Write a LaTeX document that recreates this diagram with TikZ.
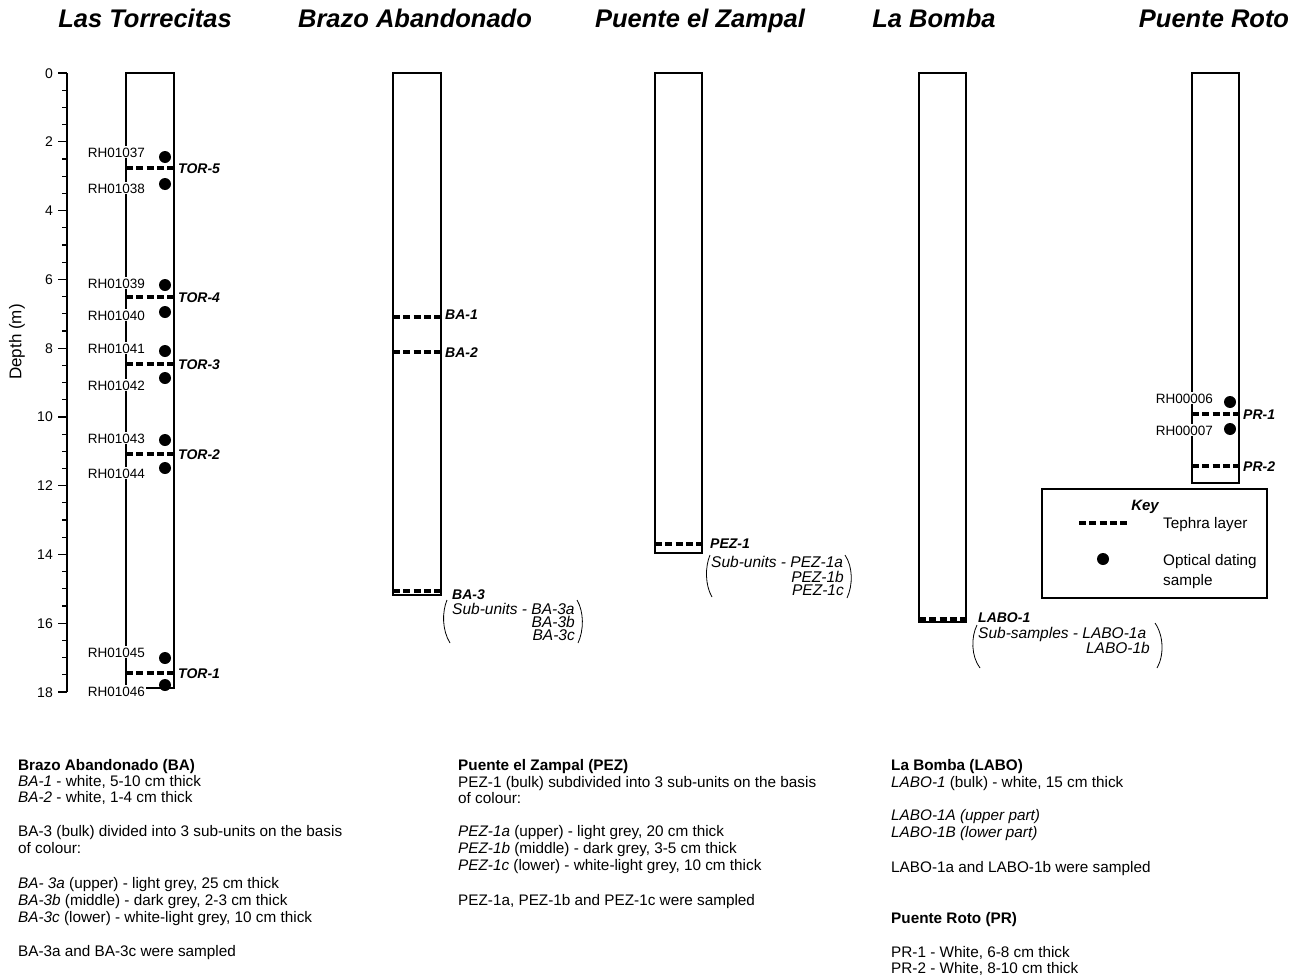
\documentclass[tikz,border=0pt]{standalone}
\usepackage{fontspec}
\setmainfont{Liberation Sans}
\begin{document}
\begin{tikzpicture}[x=1pt,y=-1pt,
  ttl/.style={font=\fontsize{25.5}{30}\selectfont\bfseries\itshape, inner sep=0pt, anchor=center, text height=18.5pt, text depth=5pt},
  column/.style={draw, line width=1.4pt},
  tephra/.style={line width=3.8pt, dash pattern=on 7pt off 3.25pt},
  dotmark/.style={fill, circle, inner sep=0pt, minimum size=12pt},
  samplab/.style={font=\fontsize{13.5}{16}\selectfont, anchor=east, fill=white, inner xsep=1pt, inner ysep=1pt, text height=10pt, text depth=0pt},
  laylab/.style={font=\fontsize{14}{16}\selectfont\bfseries\itshape, anchor=west, inner sep=0pt, text height=10pt, text depth=0pt},
  subtxt/.style={font=\fontsize{15.5}{13}\selectfont\itshape, inner sep=0pt, text height=10pt, text depth=0pt},
  body/.style={font=\fontsize{15.3}{17}\selectfont, anchor=west, inner sep=0pt, text height=10.5pt, text depth=0pt},
  ticklab/.style={font=\fontsize{14}{16}\selectfont, anchor=east, inner sep=0pt, text height=10pt, text depth=0pt},
  brk/.style={line width=0.8pt},
]
\useasboundingbox (0,0) rectangle (1293,977);

% titles
\node[ttl] (t1) at (145,21) {Las Torrecitas};
\node[ttl] (t2) at (415,21) {Brazo Abandonado};
\node[ttl] (t3) at (700,21) {Puente el Zampal};
\node[ttl] (t4) at (934,21) {La Bomba};
\node[ttl] (t5) at (1214,21) {Puente Roto};

% depth axis
\draw[line width=1.3pt] (67,73) -- (67,692);
\foreach \d in {0.5,1,...,17.5} {
  \pgfmathsetmacro\yy{73+34.39*\d}
  \draw[line width=1.2pt] (62,\yy) -- (67,\yy);
}
\foreach \d in {0,2,...,18} {
  \pgfmathsetmacro\yy{73+34.39*\d}
  \draw[line width=1.2pt] (58,\yy) -- (67,\yy);
  \node[ticklab] (tick\d) at (53,\yy) {\d};
}
\node[rotate=90, font=\fontsize{17}{19}\selectfont] (depthlab) at (17,342) {Depth (m)};

% Las Torrecitas
\draw[column] (126,73) rectangle (174,688);
\foreach \y/\n in {168/5, 297/4, 364/3, 454/2, 673/1} {
  \draw[tephra] (126,\y) -- (174,\y);
  \node[laylab] (tor\n) at (178,\y) {TOR-\n};
}
\foreach \y/\n in {157/37, 184/38, 285/39, 312/40, 351/41, 378/42, 440/43, 468/44, 658/45, 685/46} {
  \node[dotmark] (dot\n) at (165,\y) {};
}
\foreach \y/\n in {152/37, 188/38, 283/39, 315/40, 348/41, 385/42, 438/43, 473/44, 652/45, 691/46} {
  \node[samplab] (rh\n) at (146,\y) {RH010\n};
}

% Brazo Abandonado
\draw[column] (393,73) rectangle (441,595);
\draw[tephra] (393,317) -- (441,317);
\node[laylab] (ba1) at (445,314) {BA-1};
\draw[tephra] (393,352) -- (441,352);
\node[laylab] (ba2) at (445,352) {BA-2};
\draw[tephra] (393,591) -- (441,591);
\node[laylab] (ba3) at (452,594) {BA-3};
\node[subtxt, anchor=west] (bas) at (452,609) {Sub-units - BA-3a};
\node[subtxt, anchor=east] (bab) at (575,622) {BA-3b};
\node[subtxt, anchor=east] (bac) at (575,635) {BA-3c};
\draw[brk] (447,600) .. controls (442,612) and (442,630) .. (450,643);
\draw[brk] (577,600) .. controls (584,612) and (584,630) .. (578,643);

% Puente el Zampal
\draw[column] (655,73) rectangle (702,553);
\draw[tephra] (655,544) -- (702,544);
\node[laylab] (pez1) at (710,543) {PEZ-1};
\node[subtxt, anchor=west] (pezs) at (711,562) {Sub-units - PEZ-1a};
\node[subtxt, anchor=east] (pezb) at (844,577) {PEZ-1b};
\node[subtxt, anchor=east] (pezc) at (844,590) {PEZ-1c};
\draw[brk] (710,555) .. controls (705,567) and (705,585) .. (712,597);
\draw[brk] (845,555) .. controls (853,567) and (853,585) .. (847,598);

% La Bomba
\draw[column] (919,73) rectangle (966,622);
\draw[tephra] (919,619) -- (966,619);
\node[laylab] (labo1) at (978,617) {LABO-1};
\node[subtxt, anchor=west] (labos) at (978,633) {Sub-samples - LABO-1a};
\node[subtxt, anchor=east] (labob) at (1150,648) {LABO-1b};
\draw[brk] (977,625) .. controls (971,637) and (971,656) .. (980,668);
\draw[brk] (1155,623) .. controls (1164,636) and (1164,656) .. (1157,668);

% Puente Roto
\draw[column] (1192,73) rectangle (1239,483);
\draw[tephra] (1192,414) -- (1239,414);
\node[laylab] (pr1) at (1243,414) {PR-1};
\draw[tephra] (1192,466) -- (1239,466);
\node[laylab] (pr2) at (1243,466) {PR-2};
\node[dotmark] (dot06) at (1230,402) {};
\node[dotmark] (dot07) at (1230,429) {};
\node[samplab] (rh06) at (1214,398) {RH00006};
\node[samplab] (rh07) at (1214,430) {RH00007};

% Key
\draw[line width=1.2pt] (1042,489) rectangle (1267,598);
\node[font=\fontsize{15}{17}\selectfont\bfseries\itshape, inner sep=0pt, text height=10.5pt, text depth=0pt] (key) at (1145,505) {Key};
\draw[tephra] (1079,523) -- (1127,523);
\node[body] (keyt) at (1163,523) {Tephra layer};
\node[dotmark] (keyd) at (1103,559) {};
\node[body] (keyo1) at (1163,560) {Optical dating};
\node[body] (keyo2) at (1163,580) {sample};

% text block 1
\node[body] (a1) at (18,765) {\textbf{Brazo Abandonado (BA)}};
\node[body] (a2) at (18,781) {\textit{BA-1} - white, 5-10 cm thick};
\node[body] (a3) at (18,797) {\textit{BA-2} - white, 1-4 cm thick};
\node[body] (a4) at (18,831) {BA-3 (bulk) divided into 3 sub-units on the basis};
\node[body] (a5) at (18,848) {of colour:};
\node[body] (a6) at (18,883) {\textit{BA- 3a} (upper) - light grey, 25 cm thick};
\node[body] (a7) at (18,900) {\textit{BA-3b} (middle) - dark grey, 2-3 cm thick};
\node[body] (a8) at (18,917) {\textit{BA-3c} (lower) - white-light grey, 10 cm thick};
\node[body] (a9) at (18,951) {BA-3a and BA-3c were sampled};

% text block 2
\node[body] (b1) at (458,765) {\textbf{Puente el Zampal (PEZ)}};
\node[body] (b2) at (458,782) {PEZ-1 (bulk) subdivided into 3 sub-units on the basis};
\node[body] (b3) at (458,798) {of colour:};
\node[body] (b4) at (458,831) {\textit{PEZ-1a} (upper) - light grey, 20 cm thick};
\node[body] (b5) at (458,848) {\textit{PEZ-1b} (middle) - dark grey, 3-5 cm thick};
\node[body] (b6) at (458,865) {\textit{PEZ-1c} (lower) - white-light grey, 10 cm thick};
\node[body] (b7) at (458,900) {PEZ-1a, PEZ-1b and PEZ-1c were sampled};

% text block 3
\node[body] (c1) at (891,765) {\textbf{La Bomba (LABO)}};
\node[body] (c2) at (891,782) {\textit{LABO-1} (bulk) - white, 15 cm thick};
\node[body] (c3) at (891,815) {\textit{LABO-1A (upper part)}};
\node[body] (c4) at (891,832) {\textit{LABO-1B (lower part)}};
\node[body] (c5) at (891,867) {LABO-1a and LABO-1b were sampled};
\node[body] (c6) at (891,918) {\textbf{Puente Roto (PR)}};
\node[body] (c7) at (891,952) {PR-1 - White, 6-8 cm thick};
\node[body] (c8) at (891,968) {PR-2 - White, 8-10 cm thick};
\end{tikzpicture}
\end{document}
